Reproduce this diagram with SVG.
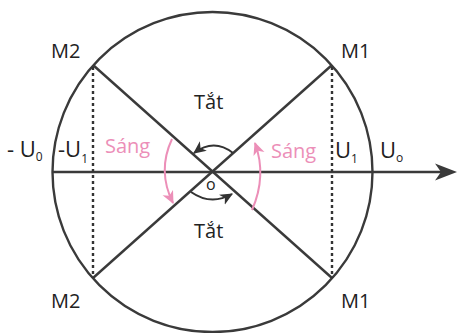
<svg xmlns="http://www.w3.org/2000/svg" width="462" height="333" viewBox="0 0 462 333">
<style>
.ln{stroke:#3a3a3a;stroke-width:2.4;fill:none}
.dot{stroke:#333;stroke-width:2.4;stroke-dasharray:3 3;fill:none}
.t{font-family:"Open Sans","Liberation Sans",sans-serif;fill:#222}
.pk{font-family:"Open Sans","Liberation Sans",sans-serif;fill:#ec8fb8}
.pa{stroke:#ec8fb8;stroke-width:2;fill:none}
.ba{stroke:#333;stroke-width:2;fill:none}
</style>
<defs>
<marker id="mp" markerUnits="userSpaceOnUse" markerWidth="14" markerHeight="14" refX="10" refY="5" orient="auto" viewBox="0 0 12 10">
<path d="M0,0 L11,5 L0,10 L3,5 Z" fill="#ec8fb8"/>
</marker>
<marker id="mb" markerUnits="userSpaceOnUse" markerWidth="14" markerHeight="14" refX="10" refY="5" orient="auto" viewBox="0 0 12 10">
<path d="M0,0 L11,5 L0,10 L3,5 Z" fill="#333"/>
</marker>
</defs>
<g id="circle"><circle class="ln" cx="212.5" cy="172" r="160"/></g>
<g id="connectors">
<line class="ln" x1="52" y1="172" x2="445" y2="172"/>
<polygon points="457,172 435,163.5 441,172 435,180.5" fill="#3a3a3a"/>
<line class="ln" x1="93" y1="65" x2="332" y2="278"/>
<line class="ln" x1="332" y1="65" x2="93" y2="278"/>
<line class="dot" x1="93" y1="67" x2="93" y2="278"/>
<line class="dot" x1="332" y1="67" x2="332" y2="278"/>
<path class="pa" d="M172,139 Q157,171 173,203" marker-end="url(#mp)"/>
<path class="pa" d="M252,210 Q267,176 255,143" marker-end="url(#mp)"/>
<path class="ba" d="M233,153 Q214,138 194,153" marker-end="url(#mb)"/>
<path class="ba" d="M191,192 Q211,206 232,194" marker-end="url(#mb)"/>
</g>
<g id="labels">
<text class="t" x="51" y="58" font-size="20">M2</text>
<text class="t" x="341" y="58" font-size="20">M1</text>
<text class="t" x="51" y="308" font-size="20">M2</text>
<text class="t" x="341" y="308" font-size="20">M1</text>
<text class="t" x="194" y="109" font-size="20">Tắt</text>
<text class="t" x="194" y="238" font-size="20">Tắt</text>
<text class="t" x="206" y="190" font-size="16">o</text>
<text class="pk" x="105" y="153" font-size="20">Sáng</text>
<text class="pk" x="271" y="158" font-size="20">Sáng</text>
<text class="t" x="7" y="157" font-size="22">-  U<tspan font-size="12" dy="4">0</tspan></text>
<text class="t" x="58" y="157" font-size="22">-U<tspan font-size="12" dy="6">1</tspan></text>
<text class="t" x="335" y="158" font-size="22">U<tspan font-size="12" dy="5">1</tspan></text>
<text class="t" x="380" y="158" font-size="22">U<tspan font-size="12" dy="4">o</tspan></text>
</g>
</svg>
